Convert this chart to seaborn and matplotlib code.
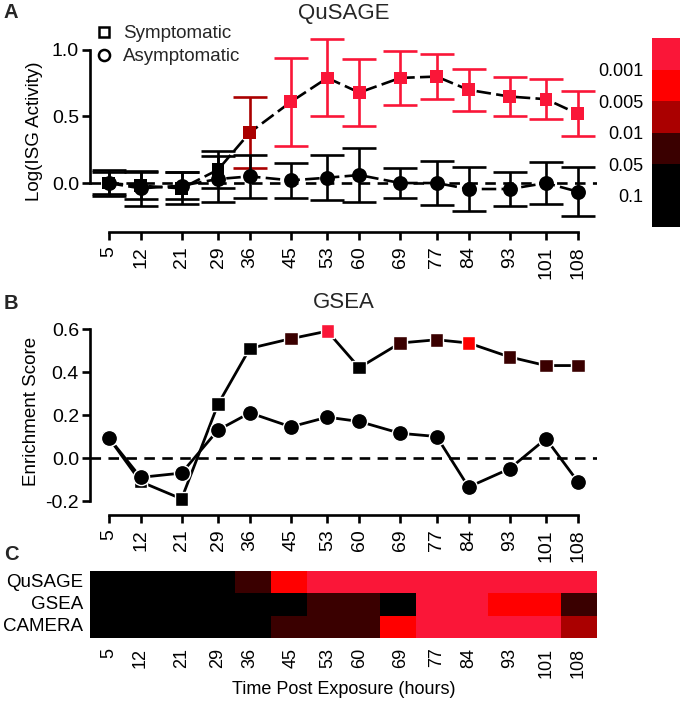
import numpy as np
import pandas as pd
import matplotlib
matplotlib.use("Agg")
import matplotlib.pyplot as plt
from matplotlib.lines import Line2D
from matplotlib.colors import ListedColormap
import seaborn as sns

# ---------------- data ----------------
hours = [5, 12, 21, 29, 36, 45, 53, 60, 69, 77, 84, 93, 101, 108]
hour_labels = [str(h) for h in hours]

# significance levels: 0 (<0.001) ,1 (0.001-0.005), 2 (0.005-0.01), 3 (0.01-0.05), 4 (0.05-0.1), 5 (>0.1)
level_colors = ["#FA1638", "#FF0000", "#AA0000", "#3A0000", "#000000", "#000000"]
cbar_labels = ["0.001", "0.005", "0.01", "0.05", "0.1"]

# Panel A - QuSAGE
qusage_sym = [0.00, -0.02, -0.04, 0.10, 0.38, 0.61, 0.79, 0.68, 0.79, 0.80, 0.70, 0.65, 0.63, 0.52]
qusage_sym_err = [0.10, 0.10, 0.12, 0.14, 0.27, 0.33, 0.29, 0.25, 0.20, 0.17, 0.16, 0.15, 0.15, 0.17]
qusage_sym_level = [5, 5, 5, 5, 2, 0, 0, 0, 0, 0, 0, 0, 0, 0]
qusage_asym = [0.00, -0.04, -0.02, 0.03, 0.05, 0.02, 0.04, 0.06, 0.00, 0.00, -0.045, -0.045, 0.00, -0.065]
qusage_asym_err = [0.08, 0.13, 0.10, 0.17, 0.16, 0.13, 0.17, 0.20, 0.115, 0.165, 0.165, 0.125, 0.16, 0.185]

# Panel B - GSEA
gsea_sym = [0.095, -0.11, -0.19, 0.25, 0.51, 0.555, 0.59, 0.42, 0.535, 0.55, 0.535, 0.47, 0.43, 0.43]
gsea_sym_level = [5, 5, 5, 5, 5, 3, 0, 5, 3, 3, 1, 3, 3, 3]
gsea_asym = [0.095, -0.09, -0.07, 0.13, 0.21, 0.145, 0.19, 0.17, 0.115, 0.10, -0.135, -0.05, 0.09, -0.11]

# Panel C - heatmap of significance levels
heat_rows = ["QuSAGE", "GSEA", "CAMERA"]
heat_qusage = [5, 5, 5, 5, 3, 1, 0, 0, 0, 0, 0, 0, 0, 0]
heat_gsea = [5, 5, 5, 5, 5, 5, 3, 3, 5, 0, 0, 1, 1, 3]
heat_camera = [5, 5, 5, 5, 5, 3, 3, 3, 1, 0, 0, 0, 0, 2]

# ---------------- style ----------------
sns.set_theme(style="white")
plt.rcParams["font.family"] = ["Liberation Sans", "DejaVu Sans"]
plt.rcParams["axes.unicode_minus"] = False

W, H = 680, 703
fig = plt.figure(figsize=(W / 100, H / 100), dpi=100)


def box(l, t, r, b):
    return [l / W, 1 - b / H, (r - l) / W, (b - t) / H]


XLIM = (0.9, 112.2)
axA = fig.add_axes(box(90, 30, 597, 232))
axB = fig.add_axes(box(90, 307.5, 597, 515))
axC = fig.add_axes(box(90, 571, 597, 638))
cax = fig.add_axes(box(652, 38, 700, 227))

LW = 1.9
TICK_FS = 14
LABEL_FS = 13.5


def style_time_axis(ax, ylim, yticks, ybounds):
    ax.set_xlim(XLIM)
    ax.set_ylim(ylim)
    ax.set_yticks(yticks)
    ax.set_xticks(hours)
    ax.set_xticklabels(hour_labels, rotation=90)
    for s in ["top", "right"]:
        ax.spines[s].set_visible(False)
    for s in ["left", "bottom"]:
        ax.spines[s].set_linewidth(LW)
        ax.spines[s].set_color("black")
    ax.spines["left"].set_bounds(*ybounds)
    ax.spines["bottom"].set_bounds(hours[0], hours[-1])
    ax.tick_params(axis="both", direction="out", length=6, width=LW, color="black",
                   labelsize=TICK_FS, labelcolor="black", pad=2, left=True, bottom=True)
    ax.tick_params(axis="x", pad=4)
    ax.set_xlabel("")


# ---------------- Panel A ----------------
dfA_sym = pd.DataFrame({"hour": hours, "value": qusage_sym, "err": qusage_sym_err,
                        "color": [level_colors[l] for l in qusage_sym_level]})
dfA_asym = pd.DataFrame({"hour": hours, "value": qusage_asym, "err": qusage_asym_err})

axA.axhline(0, color="black", lw=LW, ls=(0, (4, 2.8)), zorder=1)
sns.lineplot(data=dfA_sym, x="hour", y="value", color="black", lw=LW,
             linestyle=(0, (5.5, 2)), errorbar=None, ax=axA, zorder=2)
sns.lineplot(data=dfA_asym, x="hour", y="value", color="black", lw=LW,
             linestyle=(0, (5.5, 2)), errorbar=None, ax=axA, zorder=2)
for h, v, e, c in zip(dfA_sym["hour"], dfA_sym["value"], dfA_sym["err"], dfA_sym["color"]):
    axA.errorbar(h, v, yerr=e, fmt="none", ecolor=c, elinewidth=LW, capsize=12,
                 capthick=LW, zorder=3)
axA.errorbar(dfA_asym["hour"], dfA_asym["value"], yerr=dfA_asym["err"], fmt="none",
             ecolor="black", elinewidth=LW, capsize=12, capthick=LW, zorder=3)
sns.scatterplot(data=dfA_sym, x="hour", y="value", hue="color",
                palette={c: c for c in level_colors}, marker="s", s=85, linewidth=0,
                legend=False, ax=axA, zorder=4)
sns.scatterplot(data=dfA_asym, x="hour", y="value", color="black", marker="o", s=115,
                linewidth=0, legend=False, ax=axA, zorder=5)
style_time_axis(axA, (-0.368, 1.15), [0.0, 0.5, 1.0], (0.0, 1.0))
axA.set_ylabel("Log(ISG Activity)", fontsize=LABEL_FS, color="black", labelpad=6)

handles = [Line2D([], [], ls="none", marker="s", mfc="white", mec="black", mew=1.8, ms=7),
           Line2D([], [], ls="none", marker="o", mfc="white", mec="black", mew=1.8, ms=8)]
axA.legend(handles, ["Symptomatic", "Asymptomatic"], loc="upper left",
           bbox_to_anchor=(95 / W, 1 - 25 / H), bbox_transform=fig.transFigure,
           frameon=False, fontsize=13.5, handlelength=1.0, handletextpad=0.5,
           labelspacing=0.32, borderpad=0, borderaxespad=0)

# ---------------- Panel B ----------------
dfB_sym = pd.DataFrame({"hour": hours, "value": gsea_sym,
                        "color": [level_colors[l] for l in gsea_sym_level]})
dfB_asym = pd.DataFrame({"hour": hours, "value": gsea_asym})

axB.axhline(0, color="black", lw=LW, ls=(0, (4, 2.8)), zorder=1)
sns.lineplot(data=dfB_sym, x="hour", y="value", color="black", lw=2.0, errorbar=None,
             ax=axB, zorder=2)
sns.lineplot(data=dfB_asym, x="hour", y="value", color="black", lw=2.0, errorbar=None,
             ax=axB, zorder=2)
sns.scatterplot(data=dfB_sym, x="hour", y="value", hue="color",
                palette={c: c for c in level_colors}, marker="s", s=95,
                edgecolor="white", linewidth=1.0, legend=False, ax=axB, zorder=4)
sns.scatterplot(data=dfB_asym, x="hour", y="value", color="black", marker="o", s=135,
                edgecolor="white", linewidth=1.0, legend=False, ax=axB, zorder=5)
style_time_axis(axB, (-0.265, 0.70), [-0.2, 0.0, 0.2, 0.4, 0.6], (-0.2, 0.6))
axB.set_ylabel("Enrichment Score", fontsize=LABEL_FS, color="black", labelpad=4)

# ---------------- Panel C ----------------
heat_df = pd.DataFrame([heat_qusage, heat_gsea, heat_camera], index=heat_rows,
                       columns=hour_labels)
cmap = ListedColormap(level_colors)
sns.heatmap(heat_df, ax=axC, cmap=cmap, vmin=-0.5, vmax=5.5, cbar_ax=cax,
            cbar_kws={"ticks": [0.5, 1.5, 2.5, 3.5, 4.5]},
            xticklabels=False, yticklabels=True)
ncol = len(hours)
tick_pos = [(h - XLIM[0]) / (XLIM[1] - XLIM[0]) * ncol for h in hours]
axC.set_xticks(tick_pos)
axC.set_xticklabels(hour_labels, rotation=90)
axC.set_yticklabels(heat_rows, rotation=0)
axC.tick_params(axis="both", length=0, labelsize=13, labelcolor="black")
axC.tick_params(axis="y", labelsize=13.5, pad=5)
axC.tick_params(axis="x", pad=7)
axC.set_xlabel("Time Post Exposure (hours)", fontsize=13, color="black", labelpad=2)
axC.set_ylabel("")

cax.invert_yaxis()
cax.yaxis.set_ticks_position("left")
cax.set_yticks([0.5, 1.5, 2.5, 3.5, 4.5])
cax.set_yticklabels(cbar_labels)
cax.tick_params(length=0, labelsize=13, pad=6, labelcolor="black")
for s in cax.spines.values():
    s.set_visible(False)

# ---------------- titles / panel letters ----------------
fig.text(343.5 / W, 1 - 13 / H, "QuSAGE", fontsize=16, ha="center", va="center")
fig.text(343.5 / W, 1 - 302 / H, "GSEA", fontsize=16, ha="center", va="center")
for letter, y in [("A", 13), ("B", 303), ("C", 555)]:
    fig.text(4 / W, 1 - y / H, letter, fontsize=14.5, fontweight="bold", ha="left", va="center")

fig.savefig("out.png", dpi=100)
